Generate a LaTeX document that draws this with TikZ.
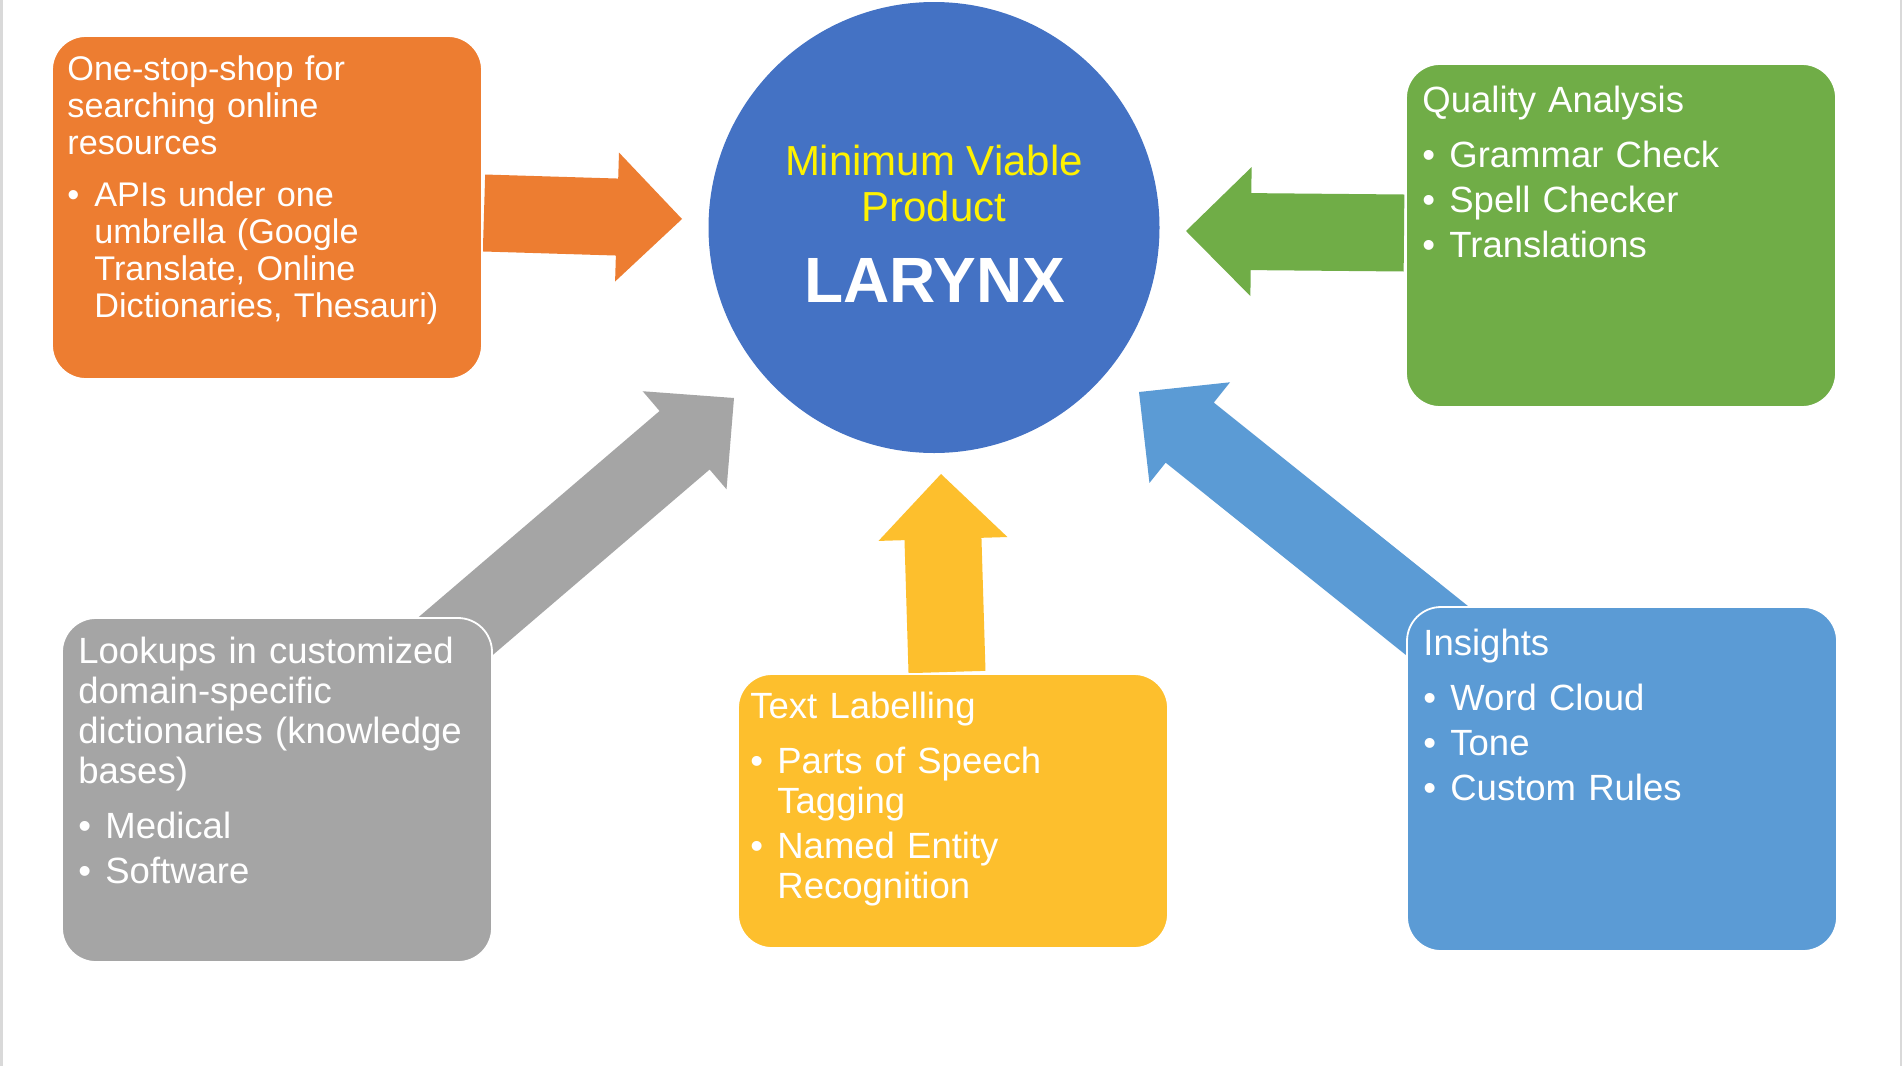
\documentclass[tikz,border=0pt]{standalone}
\usepackage{fontspec}
\setmainfont{Liberation Sans}
\usepackage{xcolor}
\definecolor{mblue}{HTML}{4472C4}
\definecolor{morange}{HTML}{ED7D31}
\definecolor{mgreen}{HTML}{70AD47}
\definecolor{mgray}{HTML}{A5A5A5}
\definecolor{mgold}{HTML}{FDBF2D}
\definecolor{msky}{HTML}{5B9BD5}
\definecolor{medge}{HTML}{D9D9D9}
\usepackage{tikz}
\usetikzlibrary{calc,backgrounds}

\newcommand{\blockarrow}[3]{%
    \coordinate (ah) at ($(#2)!32.5pt!(#1)$);
    \fill[#3] ($(#1)!19.25pt!90:(#2)$) -- ($(ah)!19.25pt!90:(#2)$)
        -- ($(ah)!32.25pt!90:(#2)$) -- (#2)
        -- ($(ah)!32.25pt!-90:(#2)$) -- ($(ah)!19.25pt!-90:(#2)$)
        -- ($(#1)!19.25pt!-90:(#2)$) -- cycle;
}
\newcommand{\topstrut}{\rule{0pt}{20pt}}
\newcommand{\cardhead}[1]{\topstrut#1\par\vspace{5pt}}
\newcommand{\bitem}[1]{\vspace{2.5pt}\hangindent=13.5pt\hangafter=1\noindent\makebox[13.5pt][l]{\textbullet}#1\par}

\tikzset{
    card/.style={draw=white, line width=0.9pt, rounded corners=17pt, anchor=north west,
        inner sep=0pt, outer sep=0pt, minimum width=215pt},
    cardtext/.style={anchor=north west, inner sep=0pt, text width=205pt, align=left,
        text=white, font=\fontsize{18.25}{20}\selectfont},
}

\begin{document}
\begin{tikzpicture}[x=0.5pt, y=-0.5pt]
            \useasboundingbox (0,0) rectangle (1904,1066);
            \draw[medge, line width=1.25pt] (1.25,0) -- (1.25,1066);
            \draw[medge, line width=1.25pt] (1901,0) -- (1901,1066);

            \node[circle, fill=mblue, minimum size=225.5pt, inner sep=0pt] (mvp) at (934,227.5) {};
            \node[anchor=north, inner sep=0pt, align=center, text=yellow, font=\fontsize{21}{23}\selectfont]
                (mvptitle) at ([shift={(0,-100.5)}]mvp.center) {\rule{0pt}{24pt}Minimum Viable\\Product};
            \node[anchor=base, inner sep=0pt, text=white, font=\bfseries\fontsize{32}{36}\selectfont]
                (mvpname) at ([shift={(1,74.5)}]mvp.center) {LARYNX};

            \node[card, fill=morange, minimum height=171.5pt] (orangebox) at (52,36) {};
            \node[cardtext, font=\fontsize{17.1}{18.5}\selectfont] (orangetext) at ([shift={(15,4)}]orangebox.north west)
                {\cardhead{One-stop-shop for\newline searching online\newline resources}\bitem{APIs under one\newline umbrella (Google\newline Translate, Online\newline Dictionaries, Thesauri)}};

            \node[card, fill=mgreen, minimum height=171.5pt] (greenbox) at (1406,64) {};
            \node[cardtext] (greentext) at ([shift={(16,8)}]greenbox.north west)
                {\cardhead{Quality Analysis}\bitem{Grammar Check}\bitem{Spell Checker}\bitem{Translations}};

            \node[card, fill=mgray, minimum height=172pt] (graybox) at (62,618) {};
            \node[cardtext] (graytext) at ([shift={(16,5)}]graybox.north west)
                {\cardhead{Lookups in customized\newline domain-specific\newline dictionaries (knowledge\newline bases)}\bitem{Medical}\bitem{Software}};

            \node[card, fill=mgold, minimum height=137pt] (goldbox) at (738,674) {};
            \node[cardtext] (goldtext) at ([shift={(12,4)}]goldbox.north west)
                {\cardhead{Text Labelling}\bitem{Parts of Speech\newline Tagging}\bitem{Named Entity\newline Recognition}};

            \node[card, fill=msky, minimum height=172pt] (skybox) at (1407,607) {};
            \node[cardtext] (skytext) at ([shift={(16,8)}]skybox.north west)
                {\cardhead{Insights}\bitem{Word Cloud}\bitem{Tone}\bitem{Custom Rules}};

            \coordinate (orangefoot) at ([shift={(2,5.5)}]orangebox.east);
            \coordinate (orangetip) at (682,219);
            \coordinate (greenfoot) at ([shift={(-2,-2.5)}]greenbox.west);
            \coordinate (greentip) at (1186,231);
            \coordinate (goldfoot) at ([shift={(-6,-2)}]goldbox.north);
            \coordinate (goldtip) at (941,474);
            \coordinate (grayfoot) at ([shift={(-100,72.5)}]graybox.north east);
            \coordinate (graytip) at (734,398);
            \coordinate (skyfoot) at ([shift={(83,66)}]skybox.north west);
            \coordinate (skytip) at (1139,392);

            \begin{pgfonlayer}{background}
                \fill[white] (0,0) rectangle (1904,1066);
                \blockarrow{orangefoot}{orangetip}{morange}
                \blockarrow{greenfoot}{greentip}{mgreen}
                \blockarrow{goldfoot}{goldtip}{mgold}
                \blockarrow{grayfoot}{graytip}{mgray}
                \blockarrow{skyfoot}{skytip}{msky}
            \end{pgfonlayer}
        \end{tikzpicture}
\end{document}
